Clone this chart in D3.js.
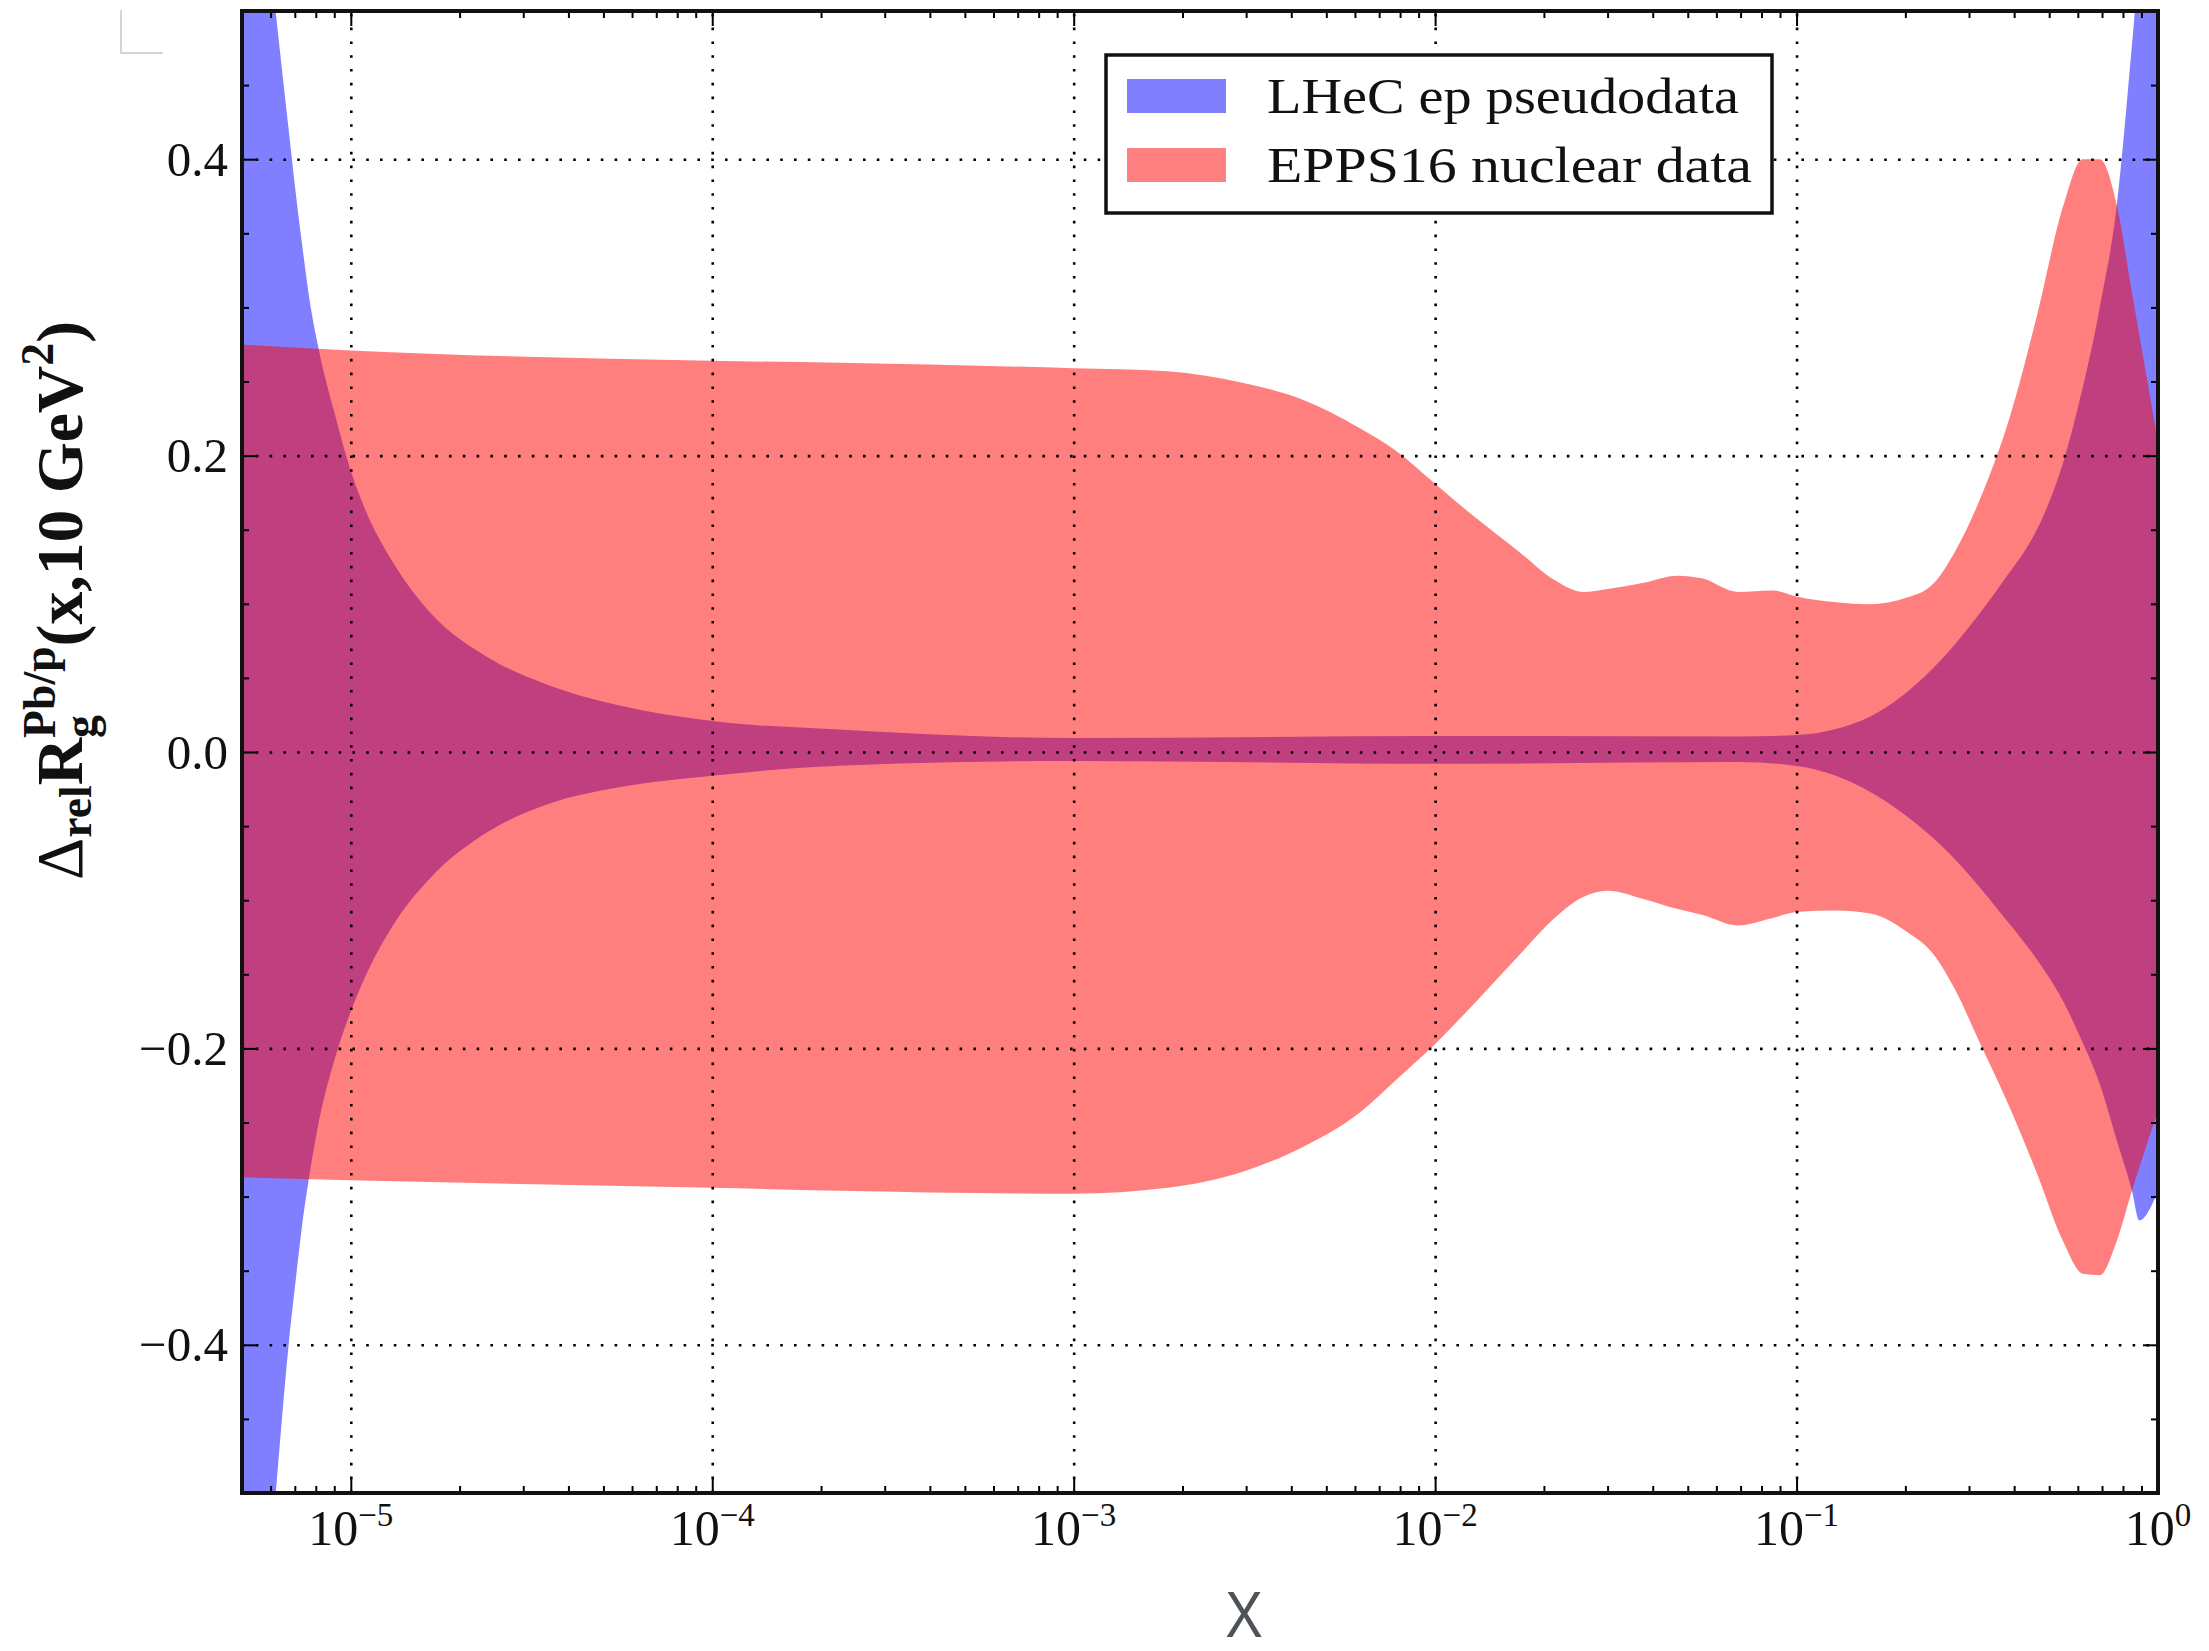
<!DOCTYPE html>
<html><head><meta charset="utf-8">
<script src="https://cdn.jsdelivr.net/npm/d3@7"></script>
<style>body{margin:0;background:#fff;} svg{display:block}</style>
</head><body>
<svg id="chart" width="2209" height="1651"></svg>
<script>
// ---------- data ----------
const eppsX  = [5e-6, 1e-5, 1e-4, 2.24e-4, 1e-3, 1.82e-3, 2.95e-3, 4.27e-3, 6.14e-3, 7.82e-3, 1e-2, 1.28e-2, 1.71e-2, 2.14e-2, 2.56e-2, 3.0e-2, 3.75e-2, 4.69e-2, 5.5e-2, 6.87e-2, 8.59e-2, 0.1, 0.1285, 0.160, 0.201, 0.240, 0.274, 0.321, 0.389, 0.462, 0.546, 0.619, 0.690, 0.769, 0.847, 1.0];
const eppsHi = [0.275, 0.271, 0.264, 0.2626, 0.259, 0.257, 0.249, 0.238, 0.219, 0.203, 0.181, 0.159, 0.135, 0.116, 0.108, 0.110, 0.114, 0.119, 0.117, 0.108, 0.109, 0.105, 0.101, 0.0997, 0.104, 0.114, 0.135, 0.170, 0.226, 0.294, 0.368, 0.400, 0.400, 0.369, 0.31, 0.209];
const eppsLo = [-0.287, -0.289, -0.294, -0.296, -0.298, -0.294, -0.283, -0.267, -0.244, -0.221, -0.197, -0.170, -0.137, -0.112, -0.098, -0.0936, -0.099, -0.106, -0.110, -0.117, -0.112, -0.108, -0.107, -0.109, -0.121, -0.137, -0.160, -0.196, -0.240, -0.284, -0.330, -0.352, -0.353, -0.33, -0.296, -0.242];

const lhecX  = [5e-6, 6.2e-6, 6.73e-6, 7.05e-6, 7.31e-6, 7.69e-6, 8.15e-6, 9.03e-6, 9.93e-6, 1.09e-5, 1.30e-5, 1.66e-5, 2.39e-5, 3.44e-5, 5.62e-5, 1e-4, 2.24e-4, 1e-3, 1e-2, 6.87e-2, 0.1, 0.1285, 0.160, 0.201, 0.251, 0.313, 0.365, 0.493, 0.546, 0.608, 0.690, 0.769, 0.847, 0.888, 1.0];
const lhecHi = [0.72, 0.499, 0.42, 0.376, 0.345, 0.305, 0.272, 0.228, 0.192, 0.165, 0.129, 0.094, 0.064, 0.046, 0.031, 0.0209, 0.0152, 0.0094, 0.0108, 0.0105, 0.0114, 0.0155, 0.024, 0.040, 0.062, 0.090, 0.112, 0.165, 0.195, 0.238, 0.300, 0.369, 0.477, 0.535, 0.665];
const lhecLo = [-0.77, -0.50, -0.40, -0.355, -0.322, -0.285, -0.250, -0.207, -0.177, -0.153, -0.118, -0.085, -0.054, -0.036, -0.0235, -0.016, -0.0092, -0.006, -0.008, -0.0067, -0.0094, -0.016, -0.027, -0.043, -0.063, -0.088, -0.108, -0.150, -0.168, -0.192, -0.224, -0.262, -0.296, -0.316, -0.296];

const xTickValues = [1e-5, 1e-4, 1e-3, 1e-2, 1e-1, 1];
const xTickExponents = ["\u22125", "\u22124", "\u22123", "\u22122", "\u22121", "0"];
const yTickValues = [-0.4, -0.2, 0, 0.2, 0.4];
const yTickLabels = ["\u22120.4", "\u22120.2", "0.0", "0.2", "0.4"];
const legendLabels = ["LHeC ep pseudodata", "EPPS16 nuclear data"];
const legendColors = ["#8080ff", "#ff8080"];

// ---------- layout ----------
const plot = {left: 242, right: 2158, top: 11, bottom: 1493};
const x = d3.scaleLog().domain([5e-6, 1]).range([plot.left, plot.right]);
const y = d3.scaleLinear().domain([-0.5, 0.5]).range([plot.bottom, plot.top]);
const serif = "'Liberation Serif', 'Times New Roman', serif";

const svg = d3.select("#chart");
svg.append("rect").attr("width", 2209).attr("height", 1651).attr("fill", "#fff");

svg.append("defs").append("clipPath").attr("id", "plotClip").append("rect")
  .attr("x", plot.left).attr("y", plot.top)
  .attr("width", plot.right - plot.left).attr("height", plot.bottom - plot.top);

// corner artifact
svg.append("path").attr("d", "M121,10V53H163").attr("fill", "none")
  .attr("stroke", "#c8c8c8").attr("stroke-width", 1.5);

// ---------- bands ----------
const lhecData = lhecX.map((v, i) => [v, lhecLo[i], lhecHi[i]]);
const eppsData = eppsX.map((v, i) => [v, eppsLo[i], eppsHi[i]]);
const area = d3.area().x(d => x(d[0])).y0(d => y(d[1])).y1(d => y(d[2])).curve(d3.curveMonotoneX);
const bands = svg.append("g").attr("clip-path", "url(#plotClip)");
bands.append("path").datum(lhecData).attr("d", area).attr("fill", "#0000ff").attr("fill-opacity", 0.5);
bands.append("path").datum(eppsData).attr("d", area).attr("fill", "#ff0000").attr("fill-opacity", 0.5);

// ---------- grid ----------
const gridStyle = g => {
  g.select(".domain").remove();
  g.selectAll("line").attr("stroke", "#000").attr("stroke-width", 2.6).attr("stroke-dasharray", "2.6,11.2");
};
svg.append("g").attr("transform", `translate(0,${plot.bottom})`)
  .call(d3.axisBottom(x).tickValues(xTickValues.filter(v => v < 1)).tickSize(-(plot.bottom - plot.top)).tickFormat(""))
  .call(gridStyle);
svg.append("g").attr("transform", `translate(${plot.left},0)`)
  .call(d3.axisLeft(y).tickValues(yTickValues).tickSize(-(plot.right - plot.left)).tickFormat(""))
  .call(gridStyle);

// ---------- ticks ----------
const xMinor = [];
for (let k = -6; k <= -1; k++) for (let m = 2; m <= 9; m++) {
  const v = m * Math.pow(10, k);
  if (v > 5.5e-6 && v < 1) xMinor.push(v);
}
const yMinor = d3.range(-0.45, 0.46, 0.05).map(v => +v.toFixed(2)).filter(v => Math.abs(v / 0.2 - Math.round(v / 0.2)) > 1e-6);

function ticks(axis, transform, values, size) {
  svg.append("g").attr("transform", transform)
    .call(axis.tickValues(values).tickSize(-size).tickFormat(""))
    .call(g => g.select(".domain").remove())
    .selectAll("line").attr("stroke", "#000").attr("stroke-width", 2);
}
ticks(d3.axisBottom(x), `translate(0,${plot.bottom})`, xTickValues, 15);
ticks(d3.axisBottom(x), `translate(0,${plot.bottom})`, xMinor, 7);
ticks(d3.axisTop(x), `translate(0,${plot.top})`, xTickValues, 15);
ticks(d3.axisTop(x), `translate(0,${plot.top})`, xMinor, 7);
ticks(d3.axisLeft(y), `translate(${plot.left},0)`, yTickValues, 15);
ticks(d3.axisLeft(y), `translate(${plot.left},0)`, yMinor, 7);
ticks(d3.axisRight(y), `translate(${plot.right},0)`, yTickValues, 15);
ticks(d3.axisRight(y), `translate(${plot.right},0)`, yMinor, 7);

// frame
svg.append("rect").attr("x", plot.left).attr("y", plot.top)
  .attr("width", plot.right - plot.left).attr("height", plot.bottom - plot.top)
  .attr("fill", "none").attr("stroke", "#111").attr("stroke-width", 4);

// ---------- tick labels ----------
svg.append("g").selectAll("text").data(yTickValues).join("text")
  .attr("x", 228).attr("y", d => y(d) + 16.5)
  .attr("text-anchor", "end").attr("font-family", serif).attr("font-size", 49).attr("fill", "#111")
  .text((d, i) => yTickLabels[i]);

const xl = svg.append("g").selectAll("text").data(xTickValues).join("text")
  .attr("x", d => x(d)).attr("y", 1545)
  .attr("text-anchor", "middle").attr("font-family", serif).attr("font-size", 50).attr("fill", "#111");
xl.append("tspan").text("10");
xl.append("tspan").attr("dy", -19).attr("font-size", 33).text((d, i) => xTickExponents[i]);

// ---------- legend ----------
const lg = svg.append("g");
lg.append("rect").attr("x", 1106).attr("y", 55).attr("width", 666).attr("height", 158)
  .attr("fill", "#fff").attr("stroke", "#111").attr("stroke-width", 3.5);
const items = lg.selectAll("g.item").data(legendLabels).join("g").attr("class", "item")
  .attr("transform", (d, i) => `translate(0,${i * 69})`);
items.append("rect").attr("x", 1127).attr("y", 79).attr("width", 99).attr("height", 34)
  .attr("fill", (d, i) => legendColors[i]);
items.append("text").attr("x", 1267).attr("y", 113)
  .attr("font-family", serif).attr("font-size", 50).attr("fill", "#111")
  .attr("textLength", (d, i) => [472, 485][i]).attr("lengthAdjust", "spacingAndGlyphs")
  .text(d => d);

// ---------- y label ----------
const yl = svg.append("g").attr("transform", "translate(82,880) rotate(-90)");
const pieces = [
  {t: "\u0394", size: 66, bold: false, dy: 0},
  {t: "rel", size: 46, bold: true, dy: 9},
  {t: "R", size: 66, bold: true, dy: 0},
  {t: "g", size: 46, bold: true, dy: 14, stackNext: true},
  {t: "Pb/p", size: 46, bold: true, dy: -27},
  {t: "(x,10 GeV", size: 66, bold: true, dy: 0},
  {t: "2", size: 46, bold: true, dy: -29},
  {t: ")", size: 66, bold: true, dy: 0}
];
let cursor = 0, stackStart = null;
pieces.forEach(p => {
  const start = stackStart !== null ? stackStart : cursor;
  const el = yl.append("text").attr("x", start).attr("y", p.dy)
    .attr("font-family", serif).attr("font-size", p.size)
    .attr("font-weight", p.bold ? "bold" : "normal").attr("fill", "#111")
    .style("white-space", "pre").text(p.t);
  const w = el.node().getComputedTextLength();
  if (p.stackNext) { stackStart = start; cursor = start + w; }
  else { cursor = Math.max(cursor, start + w); stackStart = null; }
});
const k = 559 / cursor;
yl.attr("transform", `translate(82,880) rotate(-90) scale(${k})`);

// ---------- x label ----------
svg.append("text").attr("transform", "translate(1244,1637) scale(0.88,1)")
  .attr("text-anchor", "middle").attr("font-family", "'Liberation Sans', Arial, sans-serif")
  .attr("font-size", 64).attr("fill", "#4d5359").text("X");
</script>
</body></html>
